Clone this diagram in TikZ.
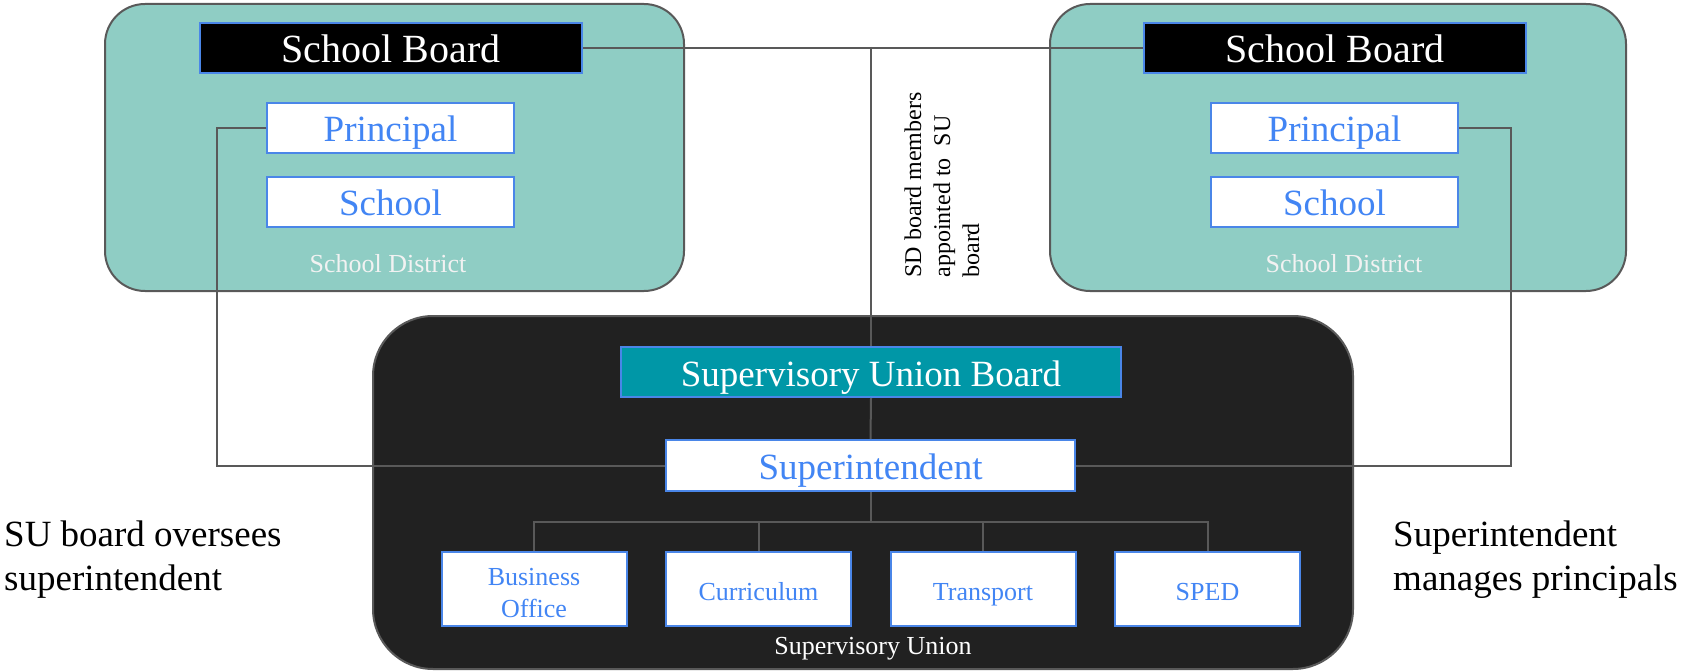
\documentclass[tikz,border=0pt]{standalone}
\usepackage{fontspec}
\setmainfont{Liberation Serif}
\begin{document}
\begin{tikzpicture}[x=1pt,y=-1pt,
  conn/.style={draw=linegray,line width=2pt},
  district/.style={draw=linegray,fill=distteal,line width=2pt,rounded corners=40pt},
  sb/.style={draw=boxblue,fill=black,line width=2pt,minimum width=382pt,minimum height=50pt,text=white,text height=35pt,text depth=5pt,font=\fontsize{40}{44}\selectfont},
  wbox/.style={draw=boxblue,fill=white,line width=2pt,text=textblue,text height=33pt,text depth=5pt,font=\fontsize{37}{40}\selectfont},
  dept/.style={draw=boxblue,fill=white,line width=2pt,minimum width=185pt,minimum height=74pt,text=textblue,align=center,font=\fontsize{26}{32}\selectfont},
  deptone/.style={dept,text height=25pt,text depth=3pt},
  captext/.style={text=white,font=\fontsize{26}{30}\selectfont},
  note/.style={align=left,font=\fontsize{37}{44}\selectfont,inner sep=0pt}
]
\definecolor{linegray}{HTML}{595959}
\definecolor{distteal}{HTML}{8FCDC4}
\definecolor{boxblue}{HTML}{4A86E8}
\definecolor{textblue}{HTML}{4285F4}
\definecolor{suteal}{HTML}{0097A7}
\definecolor{sudark}{HTML}{212121}
\useasboundingbox (0,0) rectangle (1684,671);

% district boxes
\draw[district] (105,4) rectangle (684,291);
\draw[district] (1050,4) rectangle (1626,291);
% supervisory union box
\draw[draw=linegray,fill=sudark,line width=2pt,rounded corners=60pt] (373,316) rectangle (1353,669);

% left district
\node[sb] (lsb) at (391,48) {School Board};
\node[wbox,minimum width=247pt,minimum height=50pt] (lp) at (390.5,128) {Principal};
\node[wbox,minimum width=247pt,minimum height=50pt] (ls) at (390.5,202) {School};
\node[captext,text=white!95!black] (ld) at (388,264) {School District};

% right district
\node[sb] (rsb) at (1335,48) {School Board};
\node[wbox,minimum width=247pt,minimum height=50pt] (rp) at (1334.5,128) {Principal};
\node[wbox,minimum width=247pt,minimum height=50pt] (rs) at (1334.5,202) {School};
\node[captext,text=white!95!black] (rd) at (1344,264) {School District};

% SU
\node[draw=boxblue,fill=suteal,line width=2pt,minimum width=500pt,minimum height=50pt,text=white,text height=33pt,text depth=5pt,font=\fontsize{37}{40}\selectfont] (sub) at (871,372) {Supervisory Union Board};
\node[wbox,minimum width=409pt,minimum height=51pt] (sup) at (870.5,465.5) {Superintendent};

\node[dept] (bo) at (534,589) {};
\node[text=textblue,align=center,font=\fontsize{26}{32}\selectfont,inner sep=0pt] (bot) at ([yshift=-3.6pt]bo.center) {Business\\Office};
\node[deptone] (cu) at (758.5,589) {Curriculum};
\node[deptone] (tr) at (983,589) {Transport};
\node[deptone] (sp) at (1207.5,589) {SPED};
\node[captext] (sul) at (873,649) {Supervisory Union};

% connectors
\coordinate (top) at (871,47);
\draw[conn] (lsb.east) -- (rsb.west);
\draw[conn] (top) -- (sub.north);
\draw[conn] (sub.south) -- (sup.north);
\coordinate (bus) at (870.5,522);
\draw[conn] (sup.south) -- (bus);
\draw[conn] (bo.north) |- (bus) -| (sp.north);
\draw[conn] (cu.north) -- (cu.north |- bus);
\draw[conn] (tr.north) -- (tr.north |- bus);
\draw[conn] (lp.west) -- ++(-49,0) |- (sup.west);
\draw[conn] (rp.east) -- ++(52,0) |- (sup.east);

% labels
\node[rotate=90,align=left,font=\fontsize{24}{29}\selectfont,inner sep=0pt] (sdl) at (942,185) {SD board members\\appointed to \ SU\\board};
\node[note,anchor=west] (ln) at (4,560) {SU board oversees\\superintendent};
\node[note,anchor=west] (rn) at (1393,560) {Superintendent\\manages principals};
\end{tikzpicture}
\end{document}
